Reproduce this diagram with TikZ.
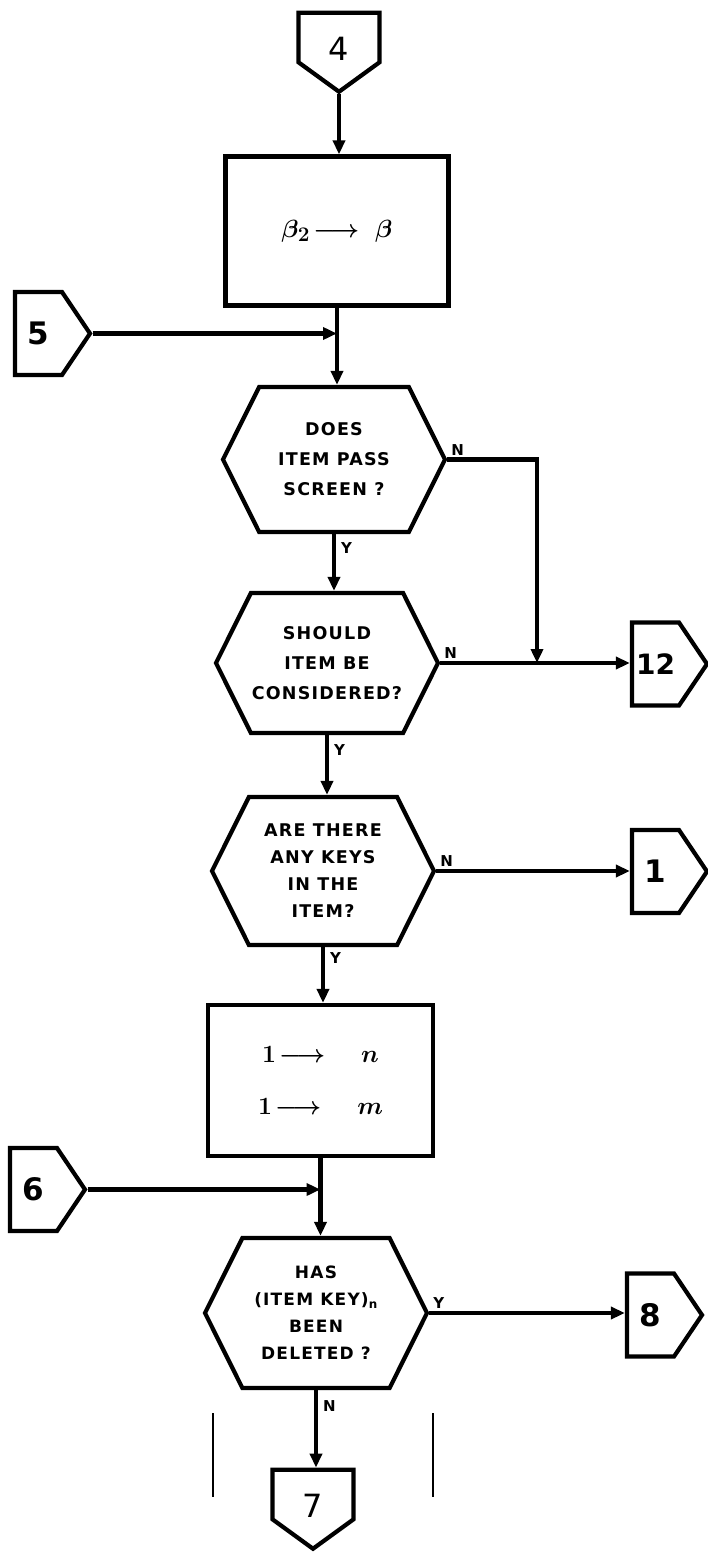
\documentclass[tikz,border=0pt]{standalone}
\usepackage{amsmath}
\usepackage{fontspec}
\usepackage{tikz}
\usetikzlibrary{arrows.meta,positioning,shapes.symbols}
\newfontfamily\handfont{DejaVu Sans}[LetterSpace=7]
\newfontfamily\numfont{DejaVu Sans}

\begin{document}
\begin{tikzpicture}[
    x=1pt, y=-1pt,
    line width=4.2pt,
    hexbox/.style={draw, signal, signal to=west and east, signal pointer angle=127, minimum width=222pt, minimum height=145pt, inner sep=0pt, align=center, font=\handfont\bfseries\fontsize{17.5}{30}\selectfont},
    procbox/.style={draw, rectangle, minimum width=223pt, minimum height=149pt, inner sep=0pt, align=center, font=\fontsize{31}{52}\selectfont\boldmath},
    offright/.style={draw, signal, signal to=east, signal pointer angle=112, minimum width=75pt, minimum height=83pt, inner sep=0pt, font=\numfont\bfseries\fontsize{31}{31}\selectfont},
    offdown/.style={draw, signal, signal to=south, signal pointer angle=108, minimum width=81pt, minimum height=57pt, inner sep=0pt, text height=46pt, text depth=0pt, font=\numfont\fontsize{32}{32}\selectfont},
    yn/.style={font=\handfont\bfseries\fontsize{15}{15}\selectfont, inner sep=2pt},
    arrow/.style={-{Triangle[length=14pt,width=12pt]}}
]
\useasboundingbox (0,0) rectangle (707,1552);

\node[offdown] (c4) at (339,37.5) {4};
\node[procbox] (assign) at (337,231) {$\beta_2\!\longrightarrow\;\beta$};
\node[offright] (c5) at (38.5,333.5) {5};
\node[hexbox] (screen) at (334,459.5) {DOES\\ITEM PASS\\SCREEN ?};
\node[hexbox, minimum height=140pt] (consider) at (327,663) {SHOULD\\ITEM BE\\CONSIDERED?};
\node[offright, font=\numfont\bfseries\fontsize{28}{28}\selectfont] (c12) at (655.5,664) {12};
\node[hexbox, minimum height=148pt, font=\handfont\bfseries\fontsize{17.5}{27}\selectfont] (keys) at (323,871) {ARE THERE\\ANY KEYS\\IN THE\\ITEM?};
\node[offright] (c1) at (655.5,871.5) {1};
\node[procbox, minimum width=225pt, minimum height=151pt, font=\fontsize{28}{52}\selectfont\boldmath] (init) at (320.5,1080.5) {$1\!\longrightarrow\quad n$\\$1\!\longrightarrow\quad m$};
\node[offright] (c6) at (33.5,1189.5) {6};
\node[hexbox, minimum height=150pt, font=\handfont\bfseries\fontsize{17}{27}\selectfont] (deleted) at (316,1313) {HAS\\(ITEM KEY)\textsubscript{n}\\BEEN\\DELETED ?};
\node[offright] (c8) at (650.5,1315) {8};
\node[offdown] (c7) at (313,1494.5) {7};

\coordinate (j5) at (assign.south |- c5.east);
\coordinate (j6) at (init.south |- c6.east);
\coordinate (j12) at (537,663);

\draw[arrow] (c4.south) -- (c4.south |- assign.north);
\draw[arrow] (assign.south) -- (assign.south |- screen.north);
\draw[arrow] (c5.east) -- (j5);
\draw[arrow] (screen.south) -- (screen.south |- consider.north) node[pos=0.25, right, yn, xshift=3pt] {Y};
\draw[arrow] (screen.east) node[above right, yn] {N} -| (j12);
\draw[arrow] (consider.east) node[above right, yn] {N} -- (consider.east -| c12.west);
\draw[arrow] (consider.south) -- (consider.south |- keys.north) node[pos=0.25, right, yn, xshift=3pt] {Y};
\draw[arrow] (keys.east) node[above right, yn] {N} -- (keys.east -| c1.west);
\draw[arrow] (keys.south) -- (keys.south |- init.north) node[pos=0.2, right, yn, xshift=3pt] {Y};
\draw[arrow] (init.south) -- (init.south |- deleted.north);
\draw[arrow] (c6.east) -- (j6);
\draw[arrow] (deleted.east) node[above right, yn] {Y} -- (deleted.east -| c8.west);
\draw[arrow] (deleted.south) -- (deleted.south |- c7.north) node[pos=0.2, right, yn, xshift=3pt] {N};

\draw[line width=2pt] (213,1413) -- (213,1497);
\draw[line width=2pt] (433,1413) -- (433,1497);
\end{tikzpicture}
\end{document}
